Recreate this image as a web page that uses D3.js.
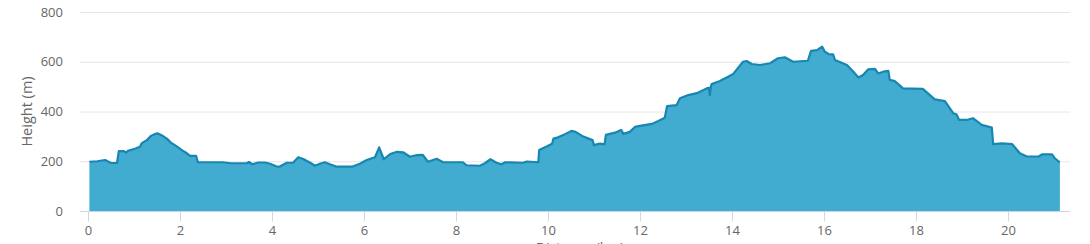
<!DOCTYPE html>
<html>
<head>
<meta charset="utf-8">
<script src="https://cdn.jsdelivr.net/npm/d3@7"></script>
<style>
  body { margin: 0; background: #fff; }
  svg { display: block; font-family: "Open Sans", sans-serif; }
</style>
</head>
<body>
<div id="chart"></div>
<script>
// distance along route (km) and height (m)
const distKm = [0.03, 0.2, 0.37, 0.5, 0.63, 0.67, 0.78, 0.83, 0.87, 1.02, 1.13, 1.17, 1.28, 1.37, 1.46, 1.52, 1.6, 1.72, 1.8, 1.93, 2.04, 2.15, 2.22, 2.35, 2.39,
  2.93, 3.1, 3.45, 3.5, 3.57, 3.7, 3.85, 3.96, 4.09, 4.17, 4.2, 4.32, 4.46, 4.57, 4.68, 4.83, 4.94, 5.04, 5.15, 5.26, 5.41, 5.74, 5.91,
  6.06, 6.24, 6.33, 6.43, 6.57, 6.72, 6.85, 7.0, 7.15, 7.28, 7.39, 7.58, 7.72, 8.15, 8.23, 8.52, 8.63, 8.75, 8.88, 8.99, 9.07, 9.46, 9.54, 9.79,
  9.81, 9.97, 10.09, 10.12, 10.22, 10.37, 10.51, 10.6, 10.77, 10.97, 11.0, 11.13, 11.23, 11.26, 11.46, 11.59, 11.64, 11.78, 11.89, 12.0, 12.26,
  12.4, 12.54, 12.59, 12.8, 12.87, 13.05, 13.26, 13.45, 13.5, 13.52, 13.54, 13.56, 13.74, 14.03, 14.24, 14.32, 14.43, 14.61, 14.83, 15.0, 15.15,
  15.33, 15.65, 15.72, 15.85, 15.96, 16.02, 16.1, 16.2, 16.24, 16.5, 16.64, 16.75, 16.85, 16.96, 17.11, 17.18, 17.29, 17.4, 17.43, 17.54,
  17.72, 18.15, 18.41, 18.63, 18.81, 18.88, 18.94, 19.1, 19.24, 19.43, 19.65, 19.68, 19.87, 20.09, 20.26, 20.41, 20.67, 20.74, 20.96, 21.02, 21.11, 21.13];
const heightM = [198, 200, 205, 193, 193, 241, 241, 235, 242, 250, 258, 273, 285, 302, 310, 312, 305, 290, 275, 260, 245, 232, 222, 222, 196,
  196, 192, 192, 197, 188, 195, 195, 190, 180, 178, 182, 194, 194, 216, 209, 194, 182, 190, 196, 188, 178, 178, 190,
  205, 216, 256, 208, 229, 238, 236, 218, 225, 226, 198, 210, 196, 196, 184, 182, 192, 208, 194, 188, 196, 194, 199, 196,
  245, 259, 270, 291, 296, 309, 322, 318, 299, 285, 265, 271, 268, 306, 315, 326, 310, 318, 338, 342, 350,
  362, 375, 422, 426, 453, 466, 475, 493, 495, 466, 500, 510, 523, 551, 600, 603, 591, 587, 594, 614, 618,
  600, 604, 644, 647, 661, 640, 631, 630, 607, 587, 560, 537, 547, 569, 571, 553, 560, 563, 527, 522,
  493, 491, 449, 442, 393, 389, 366, 366, 373, 346, 335, 269, 272, 269, 232, 219, 219, 228, 228, 212, 198, 198];
const yTicks = [0, 200, 400, 600, 800];
const xTicks = [0, 2, 4, 6, 8, 10, 12, 14, 16, 18, 20];

const W = 1090, H = 244;
const plotLeft = 80, plotRight = 1070, plotTop = 12, plotBottom = 211;

const svg = d3.select("#chart").append("svg")
    .attr("width", W)
    .attr("height", H);

const x = d3.scaleLinear().domain([-0.174, 21.35]).range([plotLeft, plotRight]);
const y = d3.scaleLinear().domain([0, 800]).range([plotBottom, plotTop]);

// grid lines
svg.append("g").selectAll("line")
    .data(yTicks)
    .enter().append("line")
    .attr("x1", plotLeft).attr("x2", plotRight)
    .attr("y1", d => y(d) + 0.5).attr("y2", d => y(d) + 0.5)
    .attr("stroke", "#e6e6e6").attr("stroke-width", 1);

// y labels
svg.append("g").selectAll("text")
    .data(yTicks)
    .enter().append("text")
    .attr("x", 63).attr("y", d => y(d) + 4.5)
    .attr("text-anchor", "end")
    .attr("font-size", 13)
    .attr("fill", "#666")
    .text(d => d);

svg.append("text")
    .attr("transform", "translate(32," + ((plotTop + plotBottom) / 2) + ") rotate(-90)")
    .attr("text-anchor", "middle")
    .attr("font-size", 14.5)
    .attr("fill", "#666")
    .text("Height (m)");

const data = distKm.map((d, i) => ({km: d, h: heightM[i]}));

const area = d3.area()
    .x(d => x(d.km))
    .y0(y(0))
    .y1(d => y(d.h));
const line = d3.line()
    .x(d => x(d.km))
    .y(d => y(d.h));

svg.append("path")
    .datum(data)
    .attr("d", area)
    .attr("fill", "#42abd0");

svg.append("path")
    .datum(data)
    .attr("d", line)
    .attr("fill", "none")
    .attr("stroke", "#1787b1")
    .attr("stroke-width", 2.2)
    .attr("stroke-linejoin", "round");

// x axis line
svg.append("line")
    .attr("x1", plotLeft).attr("x2", plotRight)
    .attr("y1", plotBottom + 0.5).attr("y2", plotBottom + 0.5)
    .attr("stroke", "#ccd6eb");

const xAxis = svg.append("g")
    .attr("transform", "translate(0," + (plotBottom + 0.5) + ")")
    .call(d3.axisBottom(x).tickValues(xTicks).tickSize(10).tickPadding(4).tickFormat(d3.format("d")));
xAxis.select(".domain").remove();
xAxis.selectAll(".tick line").attr("stroke", "#ccd6eb");
xAxis.selectAll(".tick text")
    .attr("fill", "#666")
    .attr("font-size", 13)
    .attr("font-family", "Open Sans, sans-serif");

// axis title sits mostly below the visible area, as in the original
svg.append("text")
    .attr("x", 580).attr("y", 253)
    .attr("text-anchor", "middle")
    .attr("font-size", 14)
    .attr("fill", "#666")
    .text("Distance (km)");
</script>
</body>
</html>
